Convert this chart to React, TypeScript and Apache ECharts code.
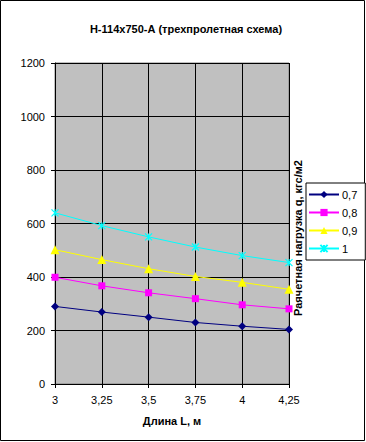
import React, { useEffect, useRef } from "react";
import * as echarts from "echarts";

const categories = ["3", "3,25", "3,5", "3,75", "4", "4,25"];
const seriesNames = ["0,7", "0,8", "0,9", "1"];
const s07 = [290, 269, 250, 230, 216, 204];
const s08 = [399, 367, 341, 319, 296, 281];
const s09 = [502, 465, 431, 402, 380, 354];
const s10 = [640, 592, 550, 512, 480, 454];
const colors = ["#000080", "#FF00FF", "#FFFF00", "#00FFFF"];
const symbols = [
  "diamond",
  "rect",
  "triangle",
  "path://M0,0L10,10M10,0L0,10M5,0L5,10",
];
const symbolSizes = [8, 7, 9, 7];

const FONT = "Liberation Sans, Arial, sans-serif";

export default function App() {
  const ref = useRef<HTMLDivElement>(null);
  useEffect(() => {
    if (!ref.current) return;
    const chart = echarts.init(ref.current, undefined, { renderer: "svg" });
    const data = [s07, s08, s09, s10];
    chart.setOption({
      animation: false,
      backgroundColor: "#ffffff",
      textStyle: { fontFamily: FONT },
      title: {
        text: "Н-114х750-А (трехпролетная схема)",
        left: 181,
        textAlign: "center",
        top: 18,
        textStyle: { fontSize: 11, fontWeight: "bold", color: "#000", fontFamily: FONT },
      },
      grid: {
        left: 55,
        top: 63,
        right: 77,
        bottom: 58,
        show: true,
        backgroundColor: "#C0C0C0",
        borderColor: "#808080",
        borderWidth: 1,
      },
      legend: {
        orient: "vertical",
        left: 306,
        top: 183,
        itemWidth: 30,
        itemHeight: 9,
        itemGap: 7,
        padding: [6, 8, 6, 2],
        borderColor: "#000",
        borderWidth: 1,
        backgroundColor: "#fff",
        data: seriesNames,
        textStyle: { fontSize: 11, color: "#000", fontFamily: FONT, padding: [0, 0, 0, -2] },
      },
      xAxis: {
        type: "category",
        data: categories,
        boundaryGap: false,
        name: "Длина L, м",
        nameLocation: "middle",
        nameGap: 31,
        nameTextStyle: { fontSize: 11, fontWeight: "bold", color: "#000", fontFamily: FONT },
        axisLine: { lineStyle: { color: "#000", width: 1 } },
        axisTick: { show: true, length: 4, lineStyle: { color: "#000" } },
        axisLabel: { fontSize: 11, color: "#000", margin: 10, fontFamily: FONT },
        splitLine: { show: true, lineStyle: { color: "#000", width: 1 } },
      },
      yAxis: {
        type: "value",
        min: 0,
        max: 1200,
        interval: 200,
        axisLine: { show: true, lineStyle: { color: "#000", width: 1 } },
        axisTick: { show: true, length: 4, inside: false, lineStyle: { color: "#000" } },
        axisLabel: {
          fontSize: 11,
          color: "#000",
          margin: 10,
          fontFamily: FONT,
          formatter: (v: number) => String(v),
        },
        splitLine: { show: true, lineStyle: { color: "#000", width: 1 } },
      },
      graphic: [
        {
          type: "rect",
          shape: { x: 0.5, y: 0.5, width: 364, height: 440 },
          style: { fill: "none", stroke: "#000", lineWidth: 1 },
          silent: true,
        },
        {
          type: "text",
          x: 298,
          y: 238,
          rotation: Math.PI / 2,
          style: {
            text: "Раячетная нагрузка q, кгс/м2",
            fontSize: 11,
            fontWeight: "bold",
            fill: "#000",
            fontFamily: FONT,
            align: "center",
            verticalAlign: "middle",
          },
        },
      ],
      series: seriesNames.map((name, i) => ({
        name,
        type: "line",
        data: data[i],
        symbol: symbols[i],
        symbolSize: symbolSizes[i],
        showSymbol: true,
        lineStyle: { color: colors[i], width: 1 },
        itemStyle:
          i === 3
            ? { color: colors[i], borderColor: colors[i], borderWidth: 1.2 }
            : { color: colors[i], borderWidth: 0 },
      })),
    });
    return () => chart.dispose();
  }, []);
  return (
    <div
      ref={ref}
      style={{ position: "fixed", left: 0, top: 0, width: 366, height: 442 }}
    />
  );
}
